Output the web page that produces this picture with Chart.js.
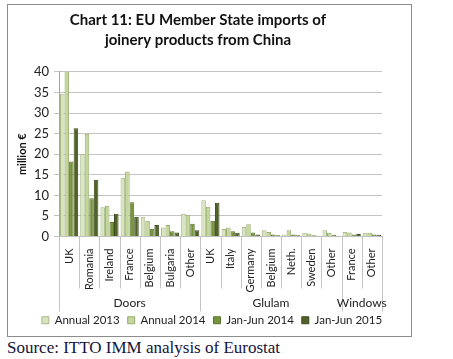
<!DOCTYPE html>
<html>
<head>
<meta charset="utf-8">
<script src="https://cdn.jsdelivr.net/npm/chart.js@4"></script>
<style>
  body { margin: 0; background: #fff; }
  #box { position: absolute; left: 7px; top: 4px; width: 403px; height: 331px; border: 1px solid #8c8c8c; }
  #source { position: absolute; left: 7px; top: 338px; font-family: "Liberation Serif", serif; font-size: 17px; color: #14143c; }
</style>
</head>
<body>
<div id="box"><canvas id="graphique" width="403" height="331"></canvas></div>
<div id="source">Source: ITTO IMM analysis of Eurostat</div>
<script>
// categories (bottom level) and groups (top level)
const categories = ['UK', 'Romania', 'Ireland', 'France', 'Belgium', 'Bulgaria', 'Other',
    'UK', 'Italy', 'Germany', 'Belgium', 'Neth.', 'Sweden', 'Other',
    'France', 'Other'];
const groups = ['Doors', 'Glulam', 'Windows'];
const groupSizes = [7, 7, 2];

// million €
const annual2013 = [34.7, 20.0, 7.1, 14.3, 4.8, 2.2, 5.5, 8.8, 1.8, 2.3, 1.5, 0.5, 0.9, 1.5, 1.1, 0.9];
const annual2014 = [40.5, 25.0, 7.5, 15.8, 3.8, 2.8, 5.3, 7.2, 2.2, 3.0, 1.1, 1.5, 0.7, 0.9, 1.0, 0.9];
const janJun2014 = [18.2, 9.3, 3.5, 8.3, 1.9, 1.3, 3.1, 3.8, 1.3, 1.0, 0.5, 0.5, 0.3, 0.4, 0.5, 0.5];
const janJun2015 = [26.3, 13.8, 5.5, 4.8, 2.8, 1.0, 1.5, 8.2, 0.9, 0.5, 0.3, 0.3, 0.2, 0.2, 0.6, 0.4];

const yTicks = [0, 5, 10, 15, 20, 25, 30, 35, 40];

const police = 'Lato, "Open Sans", sans-serif';

// separators + group labels under the x axis
const groupAxis = {
    id: 'groupAxis',
    beforeDraw(chart) {
        // la légende est un peu décalée vers la droite dans l'original
        if (!chart.legend._decale) {
            chart.legend.left += 14;
            chart.legend.right += 14;
            chart.legend._decale = true;
        }
    },
    afterDraw(chart) {
        const ctx = chart.ctx;
        const x = chart.scales.x;
        const area = chart.chartArea;
        const larg = (area.right - area.left) / categories.length;
        const y0 = x.top;
        ctx.save();
        ctx.strokeStyle = '#c4c4c4';
        ctx.lineWidth = 1;
        // bords des groupes
        let bords = [0];
        groupSizes.forEach(function (n) { bords.push(bords[bords.length - 1] + n); });
        for (let i = 0; i <= categories.length; i++) {
            const px = Math.round(area.left + i * larg) + 0.5;
            const long = bords.includes(i);
            ctx.beginPath();
            ctx.moveTo(px, y0);
            ctx.lineTo(px, y0 + (long ? 75 : 52));
            ctx.stroke();
        }
        ctx.fillStyle = '#222';
        ctx.font = '12px ' + police;
        ctx.textAlign = 'center';
        ctx.textBaseline = 'middle';
        for (let g = 0; g < groups.length; g++) {
            const cx = area.left + (bords[g] + bords[g + 1]) / 2 * larg;
            ctx.fillText(groups[g], cx, y0 + 67);
        }
        ctx.restore();
    }
};

new Chart(document.getElementById('graphique'), {
    type: 'bar',
    data: {
        labels: categories,
        datasets: [
            { label: 'Annual 2013', data: annual2013, backgroundColor: '#d7e4bd', borderColor: '#a9b98a', borderWidth: 1 },
            { label: 'Annual 2014', data: annual2014, backgroundColor: '#c3d69b', borderColor: '#98ab6c', borderWidth: 1 },
            { label: 'Jan-Jun 2014', data: janJun2014, backgroundColor: '#77933c', borderColor: '#5c7530', borderWidth: 1 },
            { label: 'Jan-Jun 2015', data: janJun2015, backgroundColor: '#4f6228', borderColor: '#3d4c1f', borderWidth: 1 }
        ]
    },
    options: {
        responsive: false,
        animation: false,
        categoryPercentage: 0.9,
        barPercentage: 1.0,
        layout: { padding: { left: 6, right: 29, top: 5, bottom: 0 } },
        plugins: {
            title: {
                display: true,
                text: ['Chart 11: EU Member State imports of', 'joinery products from China'],
                font: { family: police, size: 15, weight: 'bold', lineHeight: 1.33 },
                color: '#111',
                padding: { top: 0, bottom: 22 }
            },
            legend: {
                position: 'bottom',
                labels: {
                    font: { family: police, size: 11.5 },
                    color: '#222',
                    boxWidth: 7,
                    boxHeight: 7,
                    padding: 8
                }
            },
            tooltip: { enabled: false }
        },
        scales: {
            x: {
                grid: { display: false },
                border: { display: true, color: '#bfbfbf' },
                ticks: {
                    autoSkip: false,
                    minRotation: 90,
                    maxRotation: 90,
                    padding: 4,
                    color: '#222',
                    font: { family: police, size: 11 }
                },
                afterFit: function (s) { s.height = 70; }
            },
            y: {
                min: 0,
                max: 40,
                afterBuildTicks: function (s) { s.ticks = yTicks.map(v => ({ value: v })); },
                grid: { color: '#c4c4c4', tickLength: 5 },
                border: { color: '#a6a6a6' },
                ticks: {
                    autoSkip: false,
                    padding: 5,
                    color: '#222',
                    font: { family: police, size: 13 }
                },
                title: {
                    display: true,
                    text: 'million €',
                    font: { family: police, size: 11, weight: 'bold' },
                    color: '#111',
                    padding: 2
                },
                afterFit: function (s) { s.width = 45; }
            }
        }
    },
    plugins: [groupAxis]
});
</script>
</body>
</html>
